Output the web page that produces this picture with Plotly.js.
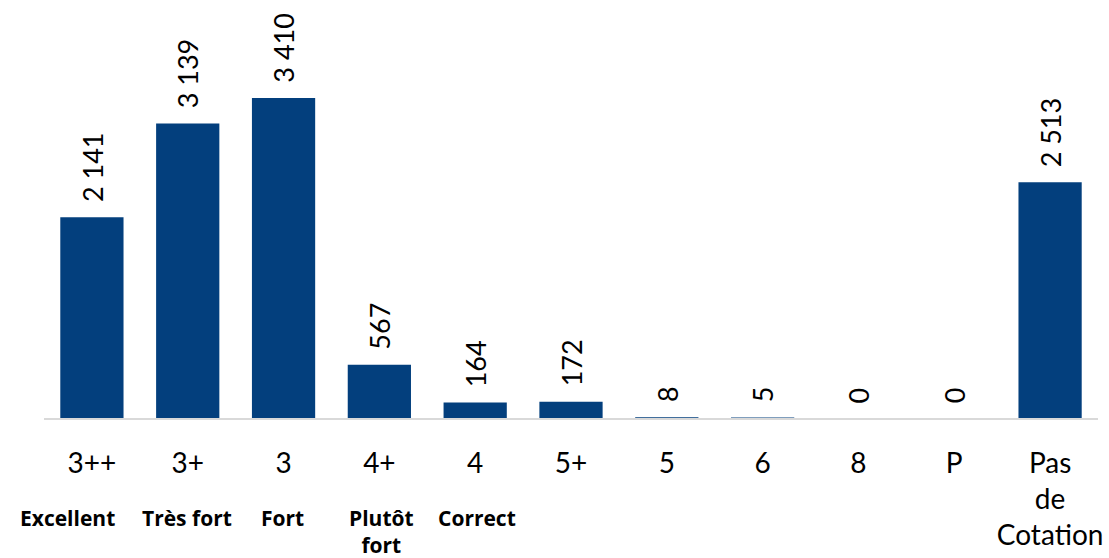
<!DOCTYPE html>
<html>
<head>
<meta charset="utf-8">
<script src="https://cdn.plot.ly/plotly-3.0.1.min.js"></script>
<style>html,body{margin:0;padding:0;background:#fff;}#chart{width:1109px;height:558px;}</style>
</head>
<body>
<div id="chart"></div>
<script>
const categories = ["3++", "3+", "3", "4+", "4", "5+", "5", "6", "8", "P", "Pas<br>de<br>Cotation"];
const values = [2141, 3139, 3410, 567, 164, 172, 8, 5, 0, 0, 2513];
const valueLabels = ["2 141", "3 139", "3 410", "567", "164", "172", "8", "5", "0", "0", "2 513"];
const qualityLabels = ["Excellent", "Très fort", "Fort", "Plutôt<br>fort", "Correct", "", "", "", "", "", ""];

// layout-only horizontal nudges (px) of the bold quality labels
const qualityNudge = [-24, -1, -1, 2, 2, 0, 0, 0, 0, 0, 0];

const idx = categories.map((_, i) => i);
const font = "Lato, 'Open Sans', sans-serif";

const annotations = [];
idx.forEach(i => {
  annotations.push({
    x: i, y: values[i], xref: 'x', yref: 'y',
    text: valueLabels[i], showarrow: false, textangle: -90,
    xanchor: 'center', yanchor: 'bottom', yshift: 13,
    font: {family: font, size: 27, color: '#000'}
  });
  if (qualityLabels[i]) {
    annotations.push({
      x: i, y: 0, xref: 'x', yref: 'paper',
      text: '<b>' + qualityLabels[i] + '</b>', showarrow: false,
      xanchor: 'center', yanchor: 'top', yshift: -84, xshift: qualityNudge[i],
      font: {family: "'Open Sans', sans-serif", size: 21, color: '#000'}
    });
  }
});

Plotly.newPlot('chart', [{
  type: 'bar', x: idx, y: values,
  marker: {color: '#033f7d'}, width: 0.66,
  hoverinfo: 'none'
}], {
  width: 1109, height: 558,
  margin: {l: 44, r: 11, t: 0, b: 140},
  paper_bgcolor: '#fff', plot_bgcolor: '#fff',
  showlegend: false,
  xaxis: {
    range: [-0.5, 10.5], tickmode: 'array', tickvals: idx, ticktext: categories,
    showline: true, linecolor: '#d9d9d9', linewidth: 2, showgrid: false, zeroline: false,
    ticks: '', ticklabelstandoff: 19,
    tickfont: {family: font, size: 28, color: '#000'}, fixedrange: true
  },
  yaxis: {range: [0, 4456], visible: false, fixedrange: true},
  annotations: annotations
}, {staticPlot: true});
</script>
</body>
</html>
